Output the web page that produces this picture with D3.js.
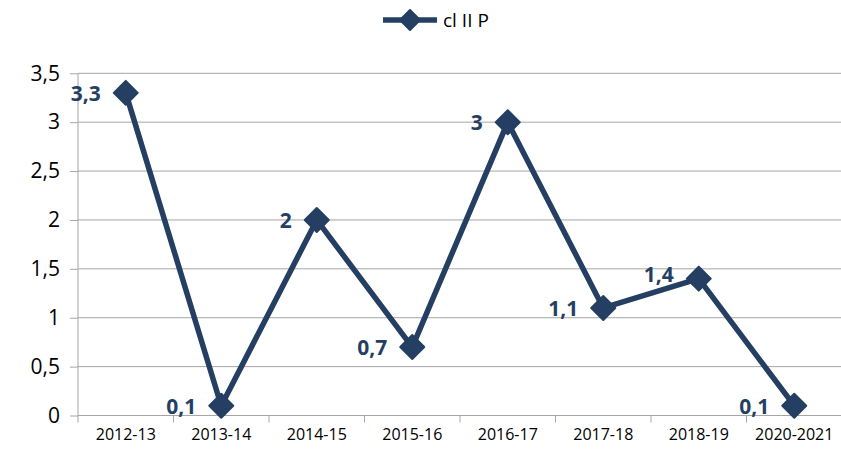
<!DOCTYPE html>
<html lang="en">
<head>
    <meta charset="UTF-8">
    <title>cl II P</title>
    <script src="https://cdn.jsdelivr.net/npm/d3@7"></script>
    <style>
        body { margin: 0; background: #fff; }
        svg { display: block; font-family: "Open Sans", "Liberation Sans", sans-serif; }
    </style>
</head>
<body>
    <div id="chart"></div>
    <script>
        const years = ['2012-13', '2013-14', '2014-15', '2015-16', '2016-17', '2017-18', '2018-19', '2020-2021']
        const values = [3.3, 0.1, 2, 0.7, 3, 1.1, 1.4, 0.1]
        const yTicks = [0, 0.5, 1, 1.5, 2, 2.5, 3, 3.5]
        const seriesName = 'cl II P'

        const w = 841
        const h = 456
        const padL = 78, padR = 842, padT = 73.3, padB = 415.5
        const navy = '#253f63'
        const fmt = d => String(d).replace('.', ',')

        const svg = d3.select('#chart').append('svg')
            .attr('width', w)
            .attr('height', h)

        const x = d3.scaleBand().domain(years).range([padL, padR])
        const y = d3.scaleLinear().domain([0, 3.5]).range([padB, padT])

        // gridlines
        svg.append('g')
            .selectAll('line')
            .data(yTicks)
            .enter()
            .append('line')
            .attr('x1', padL).attr('x2', w)
            .attr('y1', d => y(d)).attr('y2', d => y(d))
            .attr('stroke', '#a6a6a6')
            .attr('stroke-width', 1)

        // y axis
        const yAxis = d3.axisLeft(y).tickValues(yTicks).tickFormat(fmt).tickSize(8).tickPadding(10)
        const gy = svg.append('g')
            .attr('transform', `translate(${padL},0)`)
            .call(yAxis)
        gy.select('.domain').attr('stroke', '#a6a6a6').attr('d', `M0,${padT}V${padB}`)
        gy.selectAll('.tick line').attr('stroke', '#a6a6a6')
        gy.selectAll('.tick text').attr('font-size', 21).attr('fill', '#000')
            .style('font-family', '"Open Sans", sans-serif')

        // x axis
        const xAxis = d3.axisBottom(x).tickSize(0).tickPadding(13)
        const gx = svg.append('g')
            .attr('transform', `translate(0,${padB})`)
            .call(xAxis)
        gx.select('.domain').attr('stroke', '#a6a6a6').attr('d', `M${padL},0H${w}`)
        gx.selectAll('.tick text').attr('font-size', 16).attr('fill', '#000')
            .style('font-family', '"Open Sans", sans-serif')
        // category boundary ticks
        gx.selectAll('.bound')
            .data(years)
            .enter()
            .append('line')
            .attr('x1', d => x(d)).attr('x2', d => x(d))
            .attr('y1', 0).attr('y2', 7)
            .attr('stroke', '#a6a6a6')

        const cx = d => x(d) + x.bandwidth() / 2
        const line = d3.line()
            .x((d, i) => cx(years[i]))
            .y(d => y(d))

        svg.append('path')
            .datum(values)
            .attr('d', line)
            .attr('fill', 'none')
            .attr('stroke', navy)
            .attr('stroke-width', 5.5)
            .attr('stroke-linejoin', 'round')

        const diamondPath = 'M0,-12L12,0L0,12L-12,0Z'

        svg.selectAll('.pt')
            .data(values)
            .enter()
            .append('path')
            .attr('class', 'pt')
            .attr('d', diamondPath)
            .attr('transform', (d, i) => `translate(${cx(years[i])},${y(d)})`)
            .attr('fill', navy)
            .attr('stroke', navy)
            .attr('stroke-width', 2)
            .attr('stroke-linejoin', 'round')

        // data labels
        svg.selectAll('.lbl')
            .data(values)
            .enter()
            .append('text')
            .attr('class', 'lbl')
            .attr('x', (d, i) => cx(years[i]) - 25)
            .attr('y', (d, i) => y(d) + 8 + (i === 6 ? -5 : 0))
            .attr('text-anchor', 'end')
            .attr('font-size', 21)
            .attr('font-weight', 'bold')
            .attr('fill', navy)
            .text(fmt)

        // legend
        const legend = svg.append('g').attr('transform', 'translate(383,20)')
        legend.append('line')
            .attr('x1', 0).attr('x2', 54)
            .attr('stroke', navy).attr('stroke-width', 5.5)
        legend.append('path')
            .attr('d', 'M0,-10L10,0L0,10L-10,0Z')
            .attr('transform', 'translate(27,0)')
            .attr('fill', navy).attr('stroke', navy).attr('stroke-width', 2)
            .attr('stroke-linejoin', 'round')
        legend.append('text')
            .attr('x', 60).attr('y', 7)
            .attr('font-size', 19)
            .attr('fill', '#000')
            .text(seriesName)
    </script>
</body>
</html>
